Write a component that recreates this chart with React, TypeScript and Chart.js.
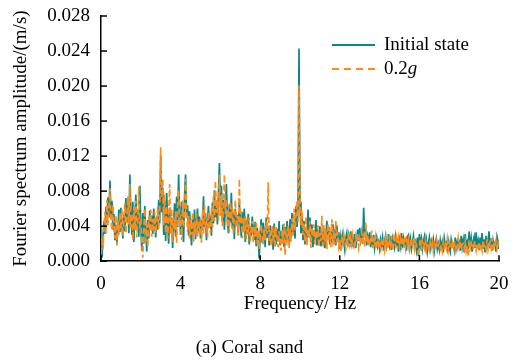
import React, { useEffect, useRef } from "react";
import { Chart, registerables } from "chart.js";

Chart.register(...registerables);

const freqStep = 0.05; // Hz between spectrum samples, starting at 0 Hz
const xTicks = [0, 4, 8, 12, 16, 20];
const yTicks = [0, 0.004, 0.008, 0.012, 0.016, 0.02, 0.024, 0.028];
const seriesNames = ["Initial state", "0.2g"];

const initialState = [
  0.0012,0.0004,0.0028,0.0046,0.0031,0.0062,0.0044,0.0073,0.0050,0.0092,0.0048,0.0069,0.0036,0.0054,0.0024,0.0042,0.0020,0.0038,0.0059,0.0033,
  0.0061,0.0040,0.0026,0.0053,0.0034,0.0072,0.0045,0.0064,0.0032,0.0099,0.0056,0.0030,0.0068,0.0022,0.0049,0.0076,0.0037,0.0058,0.0028,0.0086,
  0.0041,0.0012,0.0055,0.0020,0.0063,0.0033,0.0011,0.0047,0.0026,0.0058,0.0039,0.0052,0.0031,0.0060,0.0044,0.0027,0.0051,0.0036,0.0070,0.0043,
  0.0120,0.0056,0.0084,0.0030,0.0069,0.0023,0.0078,0.0046,0.0020,0.0061,0.0034,0.0050,0.0015,0.0042,0.0066,0.0028,0.0074,0.0039,0.0099,0.0052,
  0.0030,0.0068,0.0041,0.0022,0.0075,0.0099,0.0049,0.0064,0.0029,0.0057,0.0036,0.0018,0.0048,0.0031,0.0059,0.0025,0.0044,0.0060,0.0033,0.0051,
  0.0026,0.0047,0.0035,0.0074,0.0039,0.0055,0.0024,0.0046,0.0063,0.0038,0.0052,0.0029,0.0067,0.0043,0.0081,0.0050,0.0069,0.0042,0.0076,0.0112,
  0.0064,0.0086,0.0045,0.0070,0.0036,0.0062,0.0088,0.0051,0.0032,0.0065,0.0044,0.0078,0.0037,0.0056,0.0025,0.0060,0.0042,0.0053,0.0030,0.0066,
  0.0048,0.0027,0.0056,0.0035,0.0060,0.0022,0.0047,0.0031,0.0054,0.0019,0.0040,0.0029,0.0051,0.0036,0.0024,0.0045,0.0017,0.0038,0.0026,0.0003,
  0.0032,0.0048,0.0021,0.0044,0.0035,0.0016,0.0050,0.0027,0.0039,0.0018,0.0041,0.0024,0.0036,0.0013,0.0043,0.0029,0.0019,0.0037,0.0023,0.0046,
  0.0018,0.0034,0.0025,0.0042,0.0016,0.0039,0.0022,0.0046,0.0030,0.0019,0.0048,0.0028,0.0055,0.0033,0.0044,0.0026,0.0063,0.0039,0.0058,0.0243,
  0.0068,0.0032,0.0051,0.0024,0.0046,0.0019,0.0038,0.0026,0.0059,0.0031,0.0050,0.0022,0.0042,0.0016,0.0035,0.0024,0.0047,0.0018,0.0032,0.0025,
  0.0040,0.0017,0.0031,0.0023,0.0038,0.0015,0.0029,0.0046,0.0026,0.0039,0.0019,0.0034,0.0021,0.0042,0.0027,0.0036,0.0018,0.0041,0.0024,0.0033,
  0.0014,0.0028,0.0019,0.0030,0.0022,0.0013,0.0026,0.0032,0.0017,0.0029,0.0021,0.0034,0.0016,0.0027,0.0020,0.0031,0.0015,0.0025,0.0036,0.0023,
  0.0038,0.0024,0.0031,0.0020,0.0061,0.0027,0.0035,0.0018,0.0029,0.0023,0.0033,0.0016,0.0026,0.0020,0.0030,0.0015,0.0024,0.0028,0.0017,0.0022,
  0.0014,0.0025,0.0019,0.0027,0.0012,0.0023,0.0029,0.0016,0.0021,0.0031,0.0018,0.0024,0.0013,0.0026,0.0020,0.0015,0.0028,0.0019,0.0022,0.0011,
  0.0024,0.0017,0.0032,0.0015,0.0026,0.0019,0.0023,0.0012,0.0028,0.0030,0.0016,0.0025,0.0014,0.0021,0.0029,0.0018,0.0022,0.0013,0.0027,0.0006,
  0.0031,0.0019,0.0026,0.0014,0.0022,0.0028,0.0016,0.0024,0.0011,0.0020,0.0027,0.0015,0.0023,0.0018,0.0025,0.0012,0.0021,0.0026,0.0014,0.0020,
  0.0013,0.0024,0.0017,0.0022,0.0010,0.0026,0.0018,0.0021,0.0014,0.0023,0.0016,0.0011,0.0025,0.0019,0.0020,0.0013,0.0027,0.0015,0.0022,0.0017,
  0.0021,0.0012,0.0029,0.0016,0.0024,0.0010,0.0031,0.0018,0.0022,0.0014,0.0034,0.0017,0.0026,0.0011,0.0023,0.0028,0.0015,0.0033,0.0019,0.0024,
  0.0013,0.0027,0.0016,0.0032,0.0014,0.0025,0.0010,0.0029,0.0017,0.0022,0.0034,0.0015,0.0026,0.0012,0.0024,0.0018,0.0021,0.0011,0.0028,0.0023,0.0014,
];

const state02g = [
  0.0008,0.0022,0.0014,0.0039,0.0056,0.0032,0.0070,0.0041,0.0060,0.0083,0.0051,0.0035,0.0064,0.0040,0.0026,0.0052,0.0018,0.0046,0.0030,0.0055,
  0.0036,0.0059,0.0029,0.0047,0.0066,0.0032,0.0050,0.0074,0.0042,0.0088,0.0039,0.0054,0.0024,0.0062,0.0035,0.0069,0.0027,0.0046,0.0085,0.0038,
  0.0050,0.0025,0.0004,0.0036,0.0060,0.0023,0.0042,0.0016,0.0051,0.0034,0.0059,0.0028,0.0048,0.0036,0.0056,0.0032,0.0045,0.0062,0.0037,0.0054,
  0.0130,0.0072,0.0094,0.0041,0.0076,0.0032,0.0063,0.0026,0.0049,0.0088,0.0031,0.0060,0.0022,0.0050,0.0036,0.0057,0.0021,0.0065,0.0081,0.0039,
  0.0053,0.0024,0.0070,0.0038,0.0059,0.0094,0.0061,0.0033,0.0052,0.0026,0.0047,0.0030,0.0056,0.0022,0.0041,0.0035,0.0054,0.0028,0.0046,0.0032,
  0.0049,0.0021,0.0058,0.0030,0.0064,0.0036,0.0048,0.0027,0.0056,0.0041,0.0032,0.0061,0.0039,0.0074,0.0046,0.0092,0.0055,0.0072,0.0047,0.0099,
  0.0052,0.0076,0.0040,0.0061,0.0099,0.0054,0.0071,0.0039,0.0059,0.0033,0.0068,0.0048,0.0061,0.0031,0.0054,0.0070,0.0038,0.0052,0.0029,0.0094,
  0.0042,0.0057,0.0026,0.0049,0.0033,0.0052,0.0025,0.0043,0.0036,0.0050,0.0023,0.0038,0.0046,0.0021,0.0039,0.0028,0.0044,0.0020,0.0035,0.0014,
  0.0028,0.0042,0.0030,0.0019,0.0037,0.0024,0.0045,0.0031,0.0090,0.0022,0.0035,0.0017,0.0040,0.0026,0.0033,0.0015,0.0039,0.0027,0.0016,0.0034,
  0.0025,0.0012,0.0036,0.0020,0.0043,0.0007,0.0031,0.0024,0.0040,0.0015,0.0037,0.0022,0.0049,0.0029,0.0060,0.0035,0.0052,0.0069,0.0045,0.0201,
  0.0070,0.0041,0.0058,0.0030,0.0044,0.0022,0.0051,0.0018,0.0036,0.0027,0.0046,0.0015,0.0039,0.0028,0.0042,0.0019,0.0034,0.0025,0.0041,0.0016,
  0.0032,0.0023,0.0052,0.0018,0.0041,0.0026,0.0035,0.0014,0.0043,0.0029,0.0037,0.0016,0.0048,0.0024,0.0031,0.0019,0.0046,0.0022,0.0033,0.0017,
  0.0025,0.0012,0.0029,0.0018,0.0031,0.0023,0.0015,0.0027,0.0020,0.0033,0.0016,0.0026,0.0019,0.0030,0.0022,0.0014,0.0028,0.0021,0.0032,0.0017,
  0.0026,0.0019,0.0033,0.0024,0.0029,0.0016,0.0045,0.0022,0.0030,0.0018,0.0027,0.0023,0.0035,0.0015,0.0024,0.0020,0.0028,0.0014,0.0025,0.0019,
  0.0023,0.0010,0.0027,0.0017,0.0022,0.0013,0.0026,0.0019,0.0030,0.0015,0.0024,0.0018,0.0029,0.0012,0.0021,0.0032,0.0016,0.0025,0.0014,0.0027,
  0.0019,0.0026,0.0013,0.0028,0.0017,0.0023,0.0015,0.0029,0.0018,0.0024,0.0011,0.0025,0.0020,0.0016,0.0027,0.0014,0.0022,0.0019,0.0012,0.0010,
  0.0017,0.0026,0.0012,0.0023,0.0019,0.0015,0.0025,0.0014,0.0021,0.0018,0.0013,0.0024,0.0016,0.0022,0.0011,0.0020,0.0017,0.0024,0.0015,0.0018,
  0.0021,0.0014,0.0019,0.0012,0.0023,0.0016,0.0020,0.0015,0.0025,0.0013,0.0022,0.0018,0.0014,0.0021,0.0016,0.0024,0.0012,0.0019,0.0015,0.0026,
  0.0016,0.0023,0.0013,0.0019,0.0020,0.0014,0.0022,0.0011,0.0018,0.0006,0.0024,0.0015,0.0021,0.0017,0.0013,0.0023,0.0018,0.0012,0.0020,0.0016,
  0.0022,0.0015,0.0019,0.0012,0.0024,0.0017,0.0020,0.0014,0.0025,0.0013,0.0018,0.0022,0.0015,0.0026,0.0011,0.0019,0.0016,0.0023,0.0014,0.0021,0.0017,
];

const TEAL = "#0A8787";
const ORANGE = "#FF8C1A";
const FONT = "'Liberation Serif', 'Times New Roman', serif";
const FS = 19;

Chart.defaults.font.family = FONT;
Chart.defaults.font.size = FS;
Chart.defaults.color = "#000";

const toPoints = (vals: number[]) => vals.map((v, i) => ({ x: i * freqStep, y: v }));

const decorPlugin = {
  id: "decor",
  afterDraw(chart: any) {
    const { ctx, chartArea, scales } = chart;
    const xs = scales.x;
    const ys = scales.y;
    ctx.save();
    ctx.strokeStyle = "#000";
    ctx.lineWidth = 1.5;
    // inward tick marks
    xTicks.forEach((t) => {
      const px = xs.getPixelForValue(t);
      ctx.beginPath();
      ctx.moveTo(px, chartArea.bottom);
      ctx.lineTo(px, chartArea.bottom - 6);
      ctx.stroke();
    });
    yTicks.forEach((t) => {
      const py = ys.getPixelForValue(t);
      ctx.beginPath();
      ctx.moveTo(chartArea.left, py);
      ctx.lineTo(chartArea.left + 6, py);
      ctx.stroke();
    });
    // legend
    const lx = chartArea.left + 231;
    const ly1 = chartArea.top + 29;
    const ly2 = chartArea.top + 53;
    ctx.lineWidth = 2;
    ctx.strokeStyle = TEAL;
    ctx.beginPath();
    ctx.moveTo(lx, ly1);
    ctx.lineTo(lx + 43, ly1);
    ctx.stroke();
    ctx.strokeStyle = ORANGE;
    ctx.setLineDash([7, 5]);
    ctx.beginPath();
    ctx.moveTo(lx, ly2);
    ctx.lineTo(lx + 43, ly2);
    ctx.stroke();
    ctx.setLineDash([]);
    ctx.fillStyle = "#000";
    ctx.textBaseline = "middle";
    ctx.textAlign = "left";
    ctx.font = `${FS}px ${FONT}`;
    ctx.fillText(seriesNames[0], lx + 52, ly1);
    ctx.fillText("0.2", lx + 52, ly2);
    const w = ctx.measureText("0.2").width;
    ctx.font = `italic ${FS}px ${FONT}`;
    ctx.fillText("g", lx + 52 + w, ly2);
    ctx.restore();
  },
};

export default function App() {
  const ref = useRef<HTMLCanvasElement>(null);
  useEffect(() => {
    if (!ref.current) return;
    const chart = new Chart(ref.current, {
      type: "line",
      data: {
        datasets: [
          {
            label: seriesNames[1],
            data: toPoints(state02g),
            borderColor: ORANGE,
            borderWidth: 1.7,
            borderDash: [6, 3],
            pointRadius: 0,
            tension: 0,
            order: 0,
          },
          {
            label: seriesNames[0],
            data: toPoints(initialState),
            borderColor: TEAL,
            borderWidth: 1.7,
            pointRadius: 0,
            tension: 0,
            order: 1,
          },
        ],
      },
      options: {
        animation: false,
        responsive: false,
        layout: { padding: { left: 0, top: 16, right: 19, bottom: 0 } },
        plugins: {
          legend: { display: false },
          tooltip: { enabled: false },
          title: {
            display: true,
            position: "bottom",
            text: "(a) Coral sand",
            color: "#000",
            font: { family: FONT, size: FS, weight: "normal" },
            padding: { top: 8, bottom: 4 },
          },
        },
        scales: {
          x: {
            type: "linear",
            min: 0,
            max: 20,
            afterFit: (s: any) => { s.height = 67; s.paddingLeft = 0; s.paddingRight = 0; },
            afterBuildTicks: (s: any) => { s.ticks = xTicks.map((v) => ({ value: v })); },
            grid: { display: false, drawTicks: false },
            border: { display: true, color: "#000", width: 1.5 },
            ticks: { color: "#000", padding: 11, maxRotation: 0, font: { family: FONT, size: FS } },
            title: {
              display: true,
              text: "Frequency/ Hz",
              color: "#000",
              font: { family: FONT, size: FS },
              padding: { top: 0, bottom: 13 },
            },
          },
          y: {
            type: "linear",
            min: 0,
            max: 0.028,
            afterFit: (s: any) => { s.width = 101; s.paddingTop = 0; s.paddingBottom = 0; },
            afterBuildTicks: (s: any) => { s.ticks = yTicks.map((v) => ({ value: v })); },
            grid: { display: false, drawTicks: false },
            border: { display: true, color: "#000", width: 1.5 },
            ticks: {
              color: "#000",
              padding: 11,
              font: { family: FONT, size: FS },
              callback: (v: any) => Number(v).toFixed(3),
            },
            title: {
              display: true,
              text: "Fourier spectrum amplitude/(m/s)",
              color: "#000",
              font: { family: FONT, size: FS },
              padding: { top: 10, bottom: 0 },
            },
          },
        },
      },
      plugins: [decorPlugin],
    });
    return () => chart.destroy();
  }, []);
  return (
    <div style={{ position: "fixed", left: 0, top: 0, width: 518, height: 363, background: "#fff" }}>
      <canvas ref={ref} width={518} height={363} style={{ width: 518, height: 363 }} />
    </div>
  );
}
